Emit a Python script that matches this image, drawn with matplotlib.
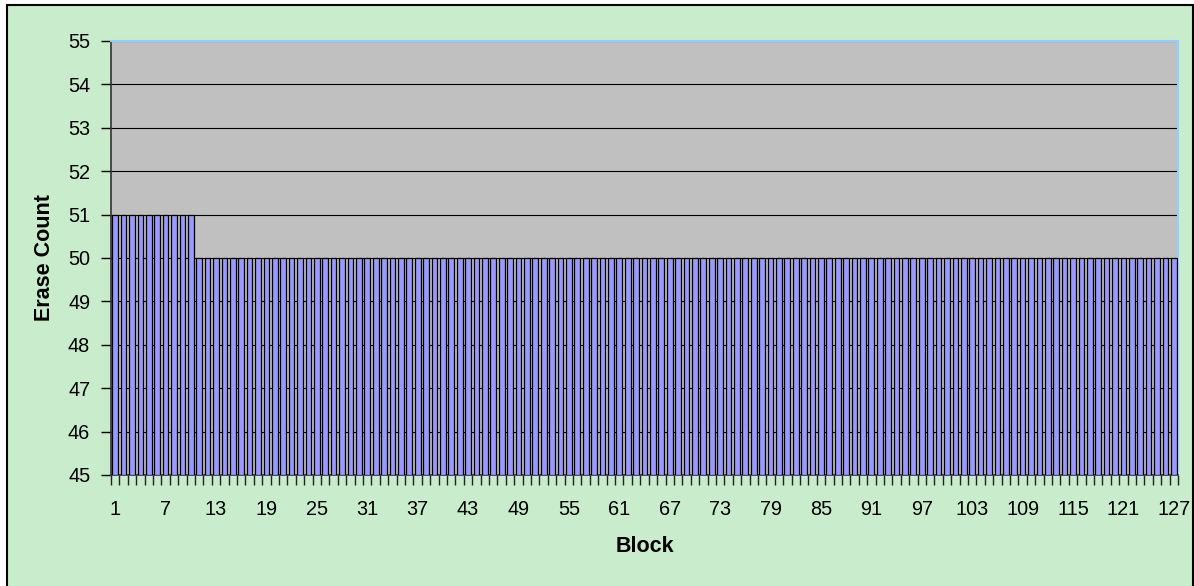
import matplotlib
matplotlib.use("Agg")
import matplotlib.pyplot as plt
from matplotlib.patches import Rectangle
from matplotlib.ticker import FixedLocator, NullFormatter

plt.rcParams['font.family'] = ['Liberation Sans', 'DejaVu Sans']

# Erase count per block: blocks 1-10 erased 51 times, the rest 50 times
blocks = list(range(1, 128))
erase_counts = [51] * 10 + [50] * 117
label_blocks = list(range(1, 128, 6))
y_ticks = list(range(45, 56))

W, H = 1194, 586
fig = plt.figure(figsize=(W / 100, H / 100), dpi=100)
fig.patch.set_facecolor('white')

# Chart area with its frame
fig.patches.append(Rectangle((7 / W, -0.01), (1193 - 7) / W, 1 - 5 / H + 0.01,
                             transform=fig.transFigure, facecolor='#C8ECCC',
                             edgecolor='black', linewidth=1.5, zorder=-10))

ax_l, ax_r, ax_t, ax_b = 111, 1178, 41, 475
ax = fig.add_axes([ax_l / W, 1 - ax_b / H, (ax_r - ax_l) / W, (ax_b - ax_t) / H])
ax.set_zorder(1)
ax.set_facecolor('#C0C0C0')

ax.bar(blocks, [v - 45 for v in erase_counts], bottom=45, width=0.68,
       color='#9999FF', edgecolor='black', linewidth=0.9, zorder=3)

ax.set_xlim(0.5, 127.5)
ax.set_ylim(45, 55)

ax.set_yticks(y_ticks)
ax.yaxis.grid(True, color='black', linewidth=0.8, zorder=1)
ax.set_axisbelow(True)
ax.tick_params(axis='y', direction='out', length=7, width=1, pad=8,
               labelsize=14.3, color='black')

ax.set_xticks(label_blocks)
ax.set_xticklabels([str(b) for b in label_blocks])
ax.xaxis.set_minor_locator(FixedLocator([b + 0.5 for b in range(0, 128)]))
ax.xaxis.set_minor_formatter(NullFormatter())
ax.tick_params(axis='x', which='major', length=0, pad=18, labelsize=14.3)
ax.tick_params(axis='x', which='minor', direction='out', length=7, width=1,
               color='#222222')

for side in ('left', 'bottom'):
    ax.spines[side].set_color('#333333')
    ax.spines[side].set_linewidth(1.2)
for side in ('top', 'right'):
    ax.spines[side].set_color('#99CCFF')
    ax.spines[side].set_linewidth(1.5)

ax.set_xlabel('Block', fontsize=15.5, fontweight='bold', va='center')
ax.set_ylabel('Erase Count', fontsize=15.5, fontweight='bold', va='center')
ax_w, ax_h = ax_r - ax_l, ax_b - ax_t
ax.xaxis.set_label_coords(0.5, (ax_b - 547) / ax_h)
ax.yaxis.set_label_coords((45 - ax_l) / ax_w, 0.5)

fig.savefig('out.png', dpi=100, facecolor=fig.get_facecolor())
